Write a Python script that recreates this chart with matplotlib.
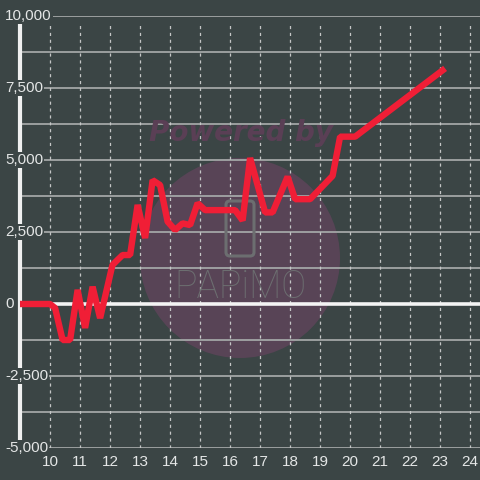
import matplotlib.pyplot as plt
import matplotlib.patches as mpatches
import numpy as np

plt.rcParams["font.family"] = ["Liberation Sans", "DejaVu Sans"]

# -----------------------------
# Data
# -----------------------------
hours = [9.0, 10.0, 10.17, 10.42, 10.67, 10.92, 11.17, 11.42, 11.67, 12.08, 12.25,
         12.42, 12.67, 12.92, 13.17, 13.42, 13.67, 13.92, 14.17, 14.42, 14.67,
         14.92, 15.17, 16.17, 16.42, 16.67, 17.17, 17.42, 17.92, 18.17, 18.67,
         19.42, 19.67, 20.17, 23.17]
values = [0, 0, -140, -1250, -1250, 490, -830, 600, -490, 1350, 1530,
          1700, 1700, 3440, 2290, 4300, 4130, 2860, 2570, 2800, 2740,
          3500, 3260, 3260, 2900, 5070, 3180, 3180, 4420, 3640, 3640,
          4450, 5810, 5810, 8180]

x_ticks = list(range(10, 25))
y_ticks = [-5000, -2500, 0, 2500, 5000, 7500, 10000]
y_grid = np.arange(-5000, 10001, 1250)

BG = "#3b4545"
TXT = "#e4e6e6"
RED = "#f01e36"

# -----------------------------
# Figure
# -----------------------------
fig = plt.figure(figsize=(4.8, 4.8), dpi=100, facecolor=BG)
ax = fig.add_axes([0, 32 / 480, 1, 432 / 480])
ax.set_facecolor(BG)
ax.set_xlim(9 - 20 / 30, 9 + 460 / 30)
ax.set_ylim(-5000, 10000)
for s in ax.spines.values():
    s.set_visible(False)
ax.set_xticks([])
ax.set_yticks([])

# watermark circle (under grid)
circ = mpatches.Circle((240 / 480, 1 - 258 / 480), 100 / 480, transform=fig.transFigure,
                       facecolor="#584456", edgecolor="none", zorder=0.5)
ax.add_patch(circ)

# grid
x_left = 9
x_right = ax.get_xlim()[1]
for yv in y_grid:
    if yv == 0:
        continue
    ax.plot([x_left, x_right], [yv, yv], color="#a3a6a6", lw=1.3, zorder=1)
for xv in x_ticks:
    ax.plot([xv, xv], [-5000, 9800], color="#c4c6c6", lw=0.9, ls=(0, (2.5, 3)), zorder=1)

ax.plot([x_left, x_right], [0, 0], color="#f4f4f4", lw=2.6, zorder=2)
ax.plot([x_left, x_left], [-5000, 10000], color="#f0f0f0", lw=3, zorder=2, solid_capstyle="butt")

# watermark text and icon
fig.text(241 / 480, 1 - 133 / 480, "Powered by", fontsize=20, fontweight="bold", style="italic",
         family="DejaVu Sans", color="#5a3f55", ha="center", va="center", zorder=3)
phone = mpatches.FancyBboxPatch((226 / 480, 1 - 256 / 480), 28 / 480, 55 / 480,
                                boxstyle="round,pad=0,rounding_size=0.008",
                                transform=fig.transFigure, facecolor="none",
                                edgecolor="#6c6e70", lw=2.2, zorder=3)
ax.add_patch(phone)
fig.text(240 / 480, 1 - 287 / 480, "PAPiMO", fontsize=27, family="Roboto", fontweight="light",
         color="#6c6e70", ha="center", va="center", zorder=3)

# series
ax.plot(hours, values, color=RED, lw=4.6, solid_joinstyle="bevel", solid_capstyle="butt", zorder=5)

# tick labels
x0 = ax.get_xlim()[0]
for yv in y_ticks:
    ax.text(x0 + 5 / 30, yv, f"{yv:,}", fontsize=11, color=TXT, ha="left", va="center",
            zorder=6, clip_on=False, bbox=dict(facecolor=BG, edgecolor="none", pad=1.0))
for xv in x_ticks:
    ax.text(xv, -5480, str(xv), fontsize=11, color=TXT, ha="center", va="center", clip_on=False)

fig.savefig("out.png", dpi=100, facecolor=BG)
